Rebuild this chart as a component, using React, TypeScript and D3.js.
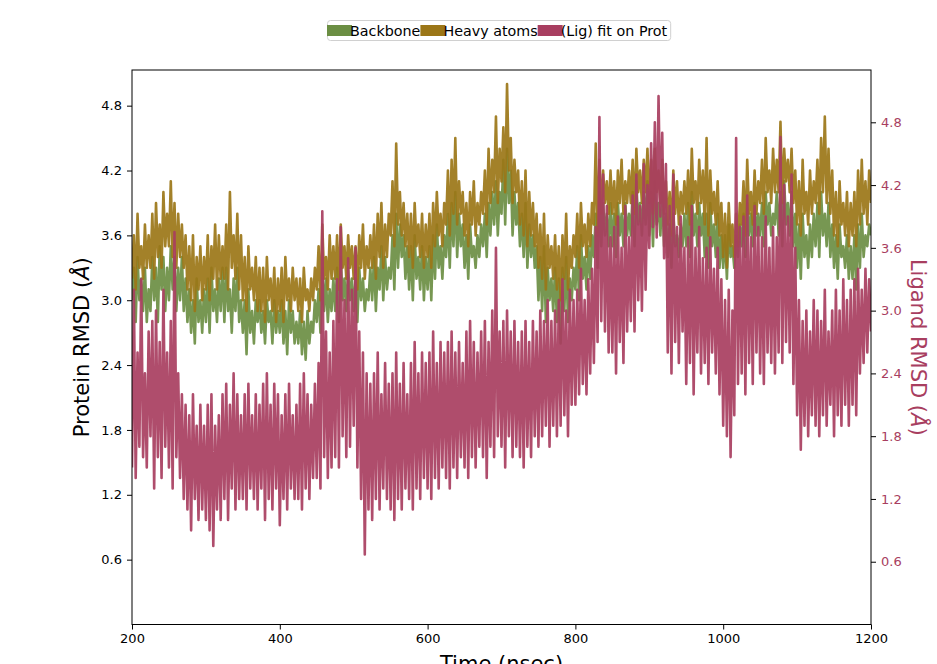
import React, { useEffect, useRef } from 'react';
import * as d3 from 'd3';

// sampled every 2.5 ns from 200 to 1200 ns (one row = 25 ns)
const startTime = 200;
const stepNs = 2.5;

// Protein backbone RMSD (left axis)
const backbone = [
  3.0, 3.3, 2.8, 3.4, 3.0, 3.2, 2.9, 3.3, 2.8, 3.1,
  2.9, 3.4, 3.0, 3.3, 2.8, 3.5, 3.1, 3.4, 2.9, 3.3,
  3.0, 3.5, 3.1, 3.4, 2.9, 3.3, 3.0, 3.4, 2.9, 3.2,
  2.8, 3.1, 2.7, 3.0, 2.6, 3.2, 2.8, 3.0, 2.7, 3.1,
  2.8, 3.2, 2.7, 3.3, 2.9, 3.1, 2.8, 3.2, 2.9, 3.3,
  2.8, 3.3, 2.9, 3.1, 2.7, 3.2, 2.9, 3.3, 2.8, 3.0,
  2.7, 3.0, 2.5, 3.1, 2.7, 2.9, 2.6, 3.0, 2.8, 3.0,
  2.7, 2.9, 2.6, 3.0, 2.8, 2.9, 2.6, 3.0, 2.7, 2.9,
  2.7, 3.0, 2.6, 2.9, 2.5, 3.0, 2.7, 2.9, 2.6, 2.8,
  2.6, 2.9, 2.5, 2.8, 2.45, 2.9, 2.6, 2.8, 2.7, 3.0,
  2.8, 3.1, 2.7, 3.3, 2.9, 3.2, 2.8, 3.1, 2.9, 3.2,
  2.9, 3.3, 2.8, 3.4, 3.0, 3.2, 2.9, 3.3, 3.0, 3.2,
  2.9, 3.2, 2.8, 3.3, 3.0, 3.2, 2.9, 3.1, 3.0, 3.3,
  3.0, 3.4, 2.9, 3.3, 3.1, 3.5, 3.0, 3.4, 3.1, 3.3,
  3.2, 3.6, 3.1, 3.8, 3.3, 3.7, 3.4, 3.6, 3.2, 3.5,
  3.1, 3.5, 3.0, 3.6, 3.2, 3.4, 3.1, 3.5, 3.0, 3.4,
  3.1, 3.5, 3.0, 3.6, 3.2, 3.7, 3.3, 3.5, 3.2, 3.6,
  3.4, 3.8, 3.3, 3.9, 3.5, 4.0, 3.4, 3.8, 3.5, 3.7,
  3.3, 3.6, 3.2, 3.7, 3.4, 3.5, 3.3, 3.6, 3.4, 3.7,
  3.5, 3.8, 3.4, 3.9, 3.6, 4.0, 3.7, 4.1, 3.6, 4.0,
  3.8, 4.3, 3.7, 4.4, 3.9, 4.2, 3.6, 4.0, 3.7, 3.9,
  3.5, 3.8, 3.4, 3.9, 3.3, 3.7, 3.4, 3.6, 3.3, 3.5,
  3.0, 3.4, 2.9, 3.5, 2.8, 3.3, 3.0, 3.2, 2.9, 3.3,
  2.8, 3.2, 2.6, 3.3, 2.9, 3.4, 2.8, 3.2, 3.0, 3.3,
  3.1, 3.5, 3.0, 3.6, 3.2, 3.4, 3.1, 3.5, 3.2, 3.6,
  3.4, 3.8, 3.3, 4.0, 3.5, 3.9, 3.6, 3.8, 3.5, 3.9,
  3.5, 3.8, 3.4, 3.9, 3.6, 3.8, 3.5, 3.9, 3.6, 3.8,
  3.6, 4.0, 3.5, 4.1, 3.7, 3.9, 3.6, 4.0, 3.7, 4.1,
  3.6, 4.0, 3.5, 4.1, 3.7, 3.9, 3.6, 4.0, 3.5, 3.8,
  3.4, 3.7, 3.3, 3.8, 3.5, 3.6, 3.4, 3.7, 3.5, 3.8,
  3.5, 3.9, 3.4, 4.0, 3.6, 3.8, 3.5, 3.9, 3.6, 3.8,
  3.4, 3.8, 3.3, 3.9, 3.5, 3.7, 3.4, 3.8, 3.3, 3.6,
  3.3, 3.6, 3.2, 3.7, 3.4, 3.5, 3.3, 3.6, 3.4, 3.7,
  3.5, 3.8, 3.4, 3.9, 3.6, 3.8, 3.5, 3.9, 3.6, 3.8,
  3.6, 3.9, 3.5, 4.0, 3.7, 3.9, 3.6, 3.8, 3.7, 4.0,
  3.6, 4.0, 3.5, 4.1, 3.7, 3.9, 3.6, 4.0, 3.5, 3.8,
  3.3, 3.7, 3.2, 3.8, 3.4, 3.6, 3.3, 3.7, 3.4, 3.8,
  3.5, 3.9, 3.4, 4.0, 3.6, 3.8, 3.5, 3.9, 3.4, 3.7,
  3.3, 3.6, 3.2, 3.7, 3.4, 3.5, 3.3, 3.6, 3.2, 3.5,
  3.2, 3.6, 3.1, 3.7, 3.3, 3.8, 3.4, 3.6, 3.5, 3.7,
  3.6,
];

// Protein heavy atoms RMSD (left axis)
const heavyAtoms = [
  3.2, 3.6, 3.1, 3.8, 3.3, 3.5, 3.2, 3.7, 3.3, 3.6,
  3.3, 3.8, 3.2, 3.9, 3.4, 3.7, 3.3, 4.0, 3.5, 3.8,
  3.5, 4.1, 3.4, 3.9, 3.3, 3.8, 3.4, 3.7, 3.3, 3.6,
  3.1, 3.5, 3.0, 3.6, 2.9, 3.4, 3.1, 3.5, 3.0, 3.4,
  3.1, 3.6, 3.0, 3.5, 3.2, 3.7, 3.1, 3.6, 3.2, 3.5,
  3.2, 3.7, 3.1, 4.0, 3.3, 3.6, 3.2, 3.8, 3.1, 3.6,
  3.0, 3.4, 2.9, 3.5, 3.1, 3.3, 3.0, 3.4, 2.9, 3.3,
  2.9, 3.3, 2.8, 3.4, 3.0, 3.2, 2.9, 3.3, 2.8, 3.2,
  2.9, 3.3, 2.8, 3.4, 3.0, 3.2, 2.9, 3.3, 3.0, 3.2,
  2.9, 3.2, 2.8, 3.3, 3.0, 3.1, 2.9, 3.2, 3.0, 3.3,
  3.1, 3.5, 3.0, 3.7, 3.2, 3.4, 3.1, 3.6, 3.2, 3.5,
  3.2, 3.6, 3.1, 3.7, 3.3, 3.5, 3.2, 3.6, 3.3, 3.5,
  3.2, 3.5, 3.1, 3.6, 3.3, 3.7, 3.2, 3.5, 3.3, 3.6,
  3.3, 3.7, 3.2, 3.8, 3.4, 3.9, 3.3, 3.7, 3.4, 3.8,
  3.6, 4.1, 3.5, 4.45, 3.7, 4.0, 3.6, 3.9, 3.5, 3.8,
  3.4, 3.8, 3.3, 3.9, 3.5, 3.7, 3.4, 3.8, 3.3, 3.7,
  3.4, 3.8, 3.3, 3.9, 3.5, 4.0, 3.6, 3.8, 3.5, 3.9,
  3.7, 4.2, 3.6, 4.3, 3.8, 4.5, 3.7, 4.1, 3.8, 4.0,
  3.6, 3.9, 3.5, 4.0, 3.7, 4.1, 3.6, 3.9, 3.7, 4.0,
  3.8, 4.2, 3.7, 4.4, 3.9, 4.3, 4.0, 4.7, 3.9, 4.4,
  4.1, 4.6, 4.0, 5.0, 4.2, 4.5, 3.9, 4.3, 4.0, 4.2,
  3.7, 4.1, 3.6, 4.2, 3.5, 4.0, 3.6, 3.9, 3.5, 3.8,
  3.3, 3.7, 3.2, 3.8, 3.1, 3.6, 3.3, 3.5, 3.2, 3.6,
  3.1, 3.5, 3.0, 3.6, 3.2, 3.8, 3.1, 3.5, 3.3, 3.6,
  3.4, 3.8, 3.3, 3.9, 3.5, 3.7, 3.4, 3.8, 3.5, 3.9,
  3.7, 4.45, 3.6, 4.3, 3.8, 4.2, 3.9, 4.1, 3.8, 4.2,
  3.8, 4.1, 3.7, 4.2, 3.9, 4.3, 3.8, 4.1, 3.9, 4.2,
  3.9, 4.3, 3.8, 4.4, 4.0, 4.2, 3.9, 4.3, 4.0, 4.4,
  3.9, 4.3, 3.8, 4.4, 4.0, 4.2, 3.9, 4.3, 3.8, 4.1,
  3.7, 4.0, 3.6, 4.2, 3.8, 4.1, 3.7, 4.0, 3.8, 4.1,
  3.8, 4.2, 3.7, 4.4, 3.9, 4.1, 3.8, 4.3, 3.9, 4.2,
  3.7, 4.5, 3.6, 4.2, 3.8, 4.0, 3.7, 4.1, 3.6, 3.9,
  3.4, 3.8, 3.3, 3.9, 3.5, 3.7, 3.4, 3.8, 3.5, 3.9,
  3.7, 4.1, 3.6, 4.3, 3.8, 4.0, 3.7, 4.2, 3.8, 4.1,
  3.9, 4.3, 3.8, 4.5, 4.0, 4.2, 3.9, 4.4, 4.0, 4.3,
  4.0, 4.65, 3.9, 4.4, 4.1, 4.3, 4.0, 4.4, 3.9, 4.2,
  3.7, 4.1, 3.6, 4.3, 3.8, 4.0, 3.7, 4.2, 3.8, 4.1,
  3.9, 4.3, 3.8, 4.5, 4.0, 4.7, 3.9, 4.4, 3.8, 4.2,
  3.6, 4.0, 3.5, 4.1, 3.7, 3.9, 3.6, 4.0, 3.5, 3.9,
  3.6, 4.0, 3.5, 4.2, 3.7, 4.3, 3.8, 4.1, 3.7, 4.2,
  3.9,
];

// Ligand RMSD fit on protein (right axis)
const ligand = [
  1.5, 3.2, 1.4, 2.6, 1.7, 3.3, 1.6, 2.4, 1.5, 2.8,
  1.8, 2.9, 1.3, 3.0, 1.6, 2.7, 1.4, 3.2, 1.7, 2.6,
  1.5, 2.9, 1.3, 3.75, 1.6, 2.4, 1.4, 2.2, 1.2, 2.1,
  1.1, 2.0, 0.9, 2.2, 1.2, 1.9, 1.0, 2.1, 1.1, 1.9,
  1.0, 2.1, 0.9, 2.2, 0.75, 1.9, 1.1, 2.0, 1.0, 2.2,
  1.2, 2.3, 1.0, 2.1, 1.3, 2.4, 1.1, 2.2, 1.2, 2.0,
  1.2, 2.2, 1.1, 2.3, 1.3, 2.0, 1.2, 2.2, 1.1, 2.1,
  1.3, 2.3, 1.0, 2.4, 1.2, 2.1, 1.1, 2.3, 1.3, 2.2,
  0.95, 2.0, 1.2, 2.2, 1.1, 2.3, 1.3, 2.0, 1.2, 2.1,
  1.2, 2.3, 1.1, 2.4, 1.3, 2.2, 1.2, 2.1, 1.4, 2.3,
  1.4, 2.5, 1.3, 3.95, 1.6, 2.8, 1.4, 2.6, 1.5, 2.9,
  1.6, 3.3, 1.5, 3.8, 1.8, 3.1, 1.6, 3.5, 1.7, 3.2,
  1.9, 3.6, 1.5, 2.8, 1.2, 2.6, 0.67, 2.4, 1.1, 2.3,
  1.0, 2.4, 1.2, 2.6, 1.1, 2.2, 1.3, 2.5, 1.2, 2.3,
  1.1, 2.4, 1.0, 2.6, 1.2, 2.3, 1.1, 2.5, 1.3, 2.2,
  1.2, 2.5, 1.1, 2.7, 1.3, 2.4, 1.2, 2.6, 1.4, 2.5,
  1.3, 2.6, 1.2, 2.8, 1.4, 2.5, 1.3, 2.7, 1.5, 2.6,
  1.4, 2.7, 1.3, 2.8, 1.5, 2.6, 1.4, 2.7, 1.6, 2.5,
  1.5, 2.8, 1.4, 2.9, 1.6, 2.7, 1.5, 2.6, 1.7, 2.8,
  1.6, 2.9, 1.4, 2.7, 1.7, 3.0, 1.6, 3.6, 1.8, 2.8,
  1.7, 2.9, 1.5, 3.0, 1.8, 2.8, 1.6, 2.9, 1.7, 2.7,
  1.6, 2.8, 1.5, 2.9, 1.7, 2.7, 1.6, 2.9, 1.8, 2.8,
  1.7, 3.0, 1.8, 2.9, 1.9, 3.1, 1.7, 2.9, 1.9, 3.0,
  1.8, 3.1, 1.9, 3.3, 2.0, 3.0, 1.8, 3.2, 2.1, 3.1,
  2.1, 3.2, 2.2, 3.4, 2.3, 3.1, 2.2, 3.3, 2.4, 3.4,
  2.5, 3.8, 2.7, 4.85, 2.9, 4.3, 2.8, 4.0, 2.6, 3.7,
  2.6, 3.8, 2.4, 3.9, 2.7, 3.6, 2.5, 4.0, 2.8, 3.7,
  2.9, 4.1, 2.8, 4.3, 3.1, 4.0, 3.0, 4.4, 3.2, 4.2,
  3.6, 4.6, 3.8, 4.8, 3.7, 5.05, 3.9, 4.7, 3.5, 4.4,
  2.6, 4.0, 2.4, 4.3, 2.7, 3.8, 2.5, 3.9, 2.8, 3.6,
  2.3, 3.7, 2.5, 4.0, 2.2, 3.6, 2.6, 3.8, 2.4, 3.5,
  2.5, 3.6, 2.3, 3.7, 2.6, 3.4, 2.4, 3.6, 2.2, 3.3,
  1.9, 3.1, 1.8, 3.2, 1.6, 3.0, 2.0, 4.65, 2.3, 3.8,
  2.4, 3.9, 2.2, 4.1, 2.5, 3.7, 2.3, 4.0, 2.6, 3.8,
  2.4, 3.7, 2.3, 3.9, 2.6, 3.6, 2.5, 3.8, 2.4, 3.7,
  2.6, 4.66, 2.5, 4.2, 2.7, 3.9, 2.6, 4.3, 2.3, 3.6,
  2.0, 3.1, 1.67, 2.9, 1.9, 3.0, 1.8, 2.8, 2.0, 3.1,
  1.9, 3.0, 1.8, 2.9, 2.0, 3.2, 1.9, 2.8, 2.1, 3.0,
  1.8, 3.2, 2.0, 3.0, 1.9, 3.3, 2.1, 3.1, 1.9, 3.2,
  2.1, 3.3, 2.0, 3.4, 2.4, 3.2, 2.5, 3.4, 2.6, 3.3,
  2.8,
];

const xTicks = [200, 400, 600, 800, 1000, 1200];
const yTicks = [0.6, 1.2, 1.8, 2.4, 3.0, 3.6, 4.2, 4.8];
const seriesNames = ['Backbone', 'Heavy atoms', '(Lig) fit on Prot'];
const seriesColors = ['#6b8e43', '#9b7617', '#a83e60'];

export default function App() {
  const ref = useRef<SVGSVGElement>(null);

  useEffect(() => {
    const svg = d3.select(ref.current);
    svg.selectAll('*').remove();
    const font = '"DejaVu Sans", sans-serif';
    const left = 132, right = 871, top = 70, bottom = 624.5;

    const x = d3.scaleLinear().domain([200, 1200]).range([left, right]);
    const yL = d3.scaleLinear().domain([0, 5.13]).range([bottom, top]);
    const yR = d3.scaleLinear().domain([0, 5.3]).range([bottom, top]);

    svg.append('rect').attr('width', 937).attr('height', 664).attr('fill', '#fff');

    svg.append('defs').append('clipPath').attr('id', 'plot-clip')
      .append('rect').attr('x', left).attr('y', top).attr('width', right - left).attr('height', bottom - top);

    const plot = svg.append('g').attr('clip-path', 'url(#plot-clip)');
    const toPoints = (vals: number[]) => vals.map((v, i) => [startTime + i * stepNs, v] as [number, number]);

    const lineL = d3.line<[number, number]>().x(d => x(d[0])).y(d => yL(d[1]));
    const lineR = d3.line<[number, number]>().x(d => x(d[0])).y(d => yR(d[1]));

    [backbone, heavyAtoms].forEach((vals, i) => {
      plot.append('path').attr('d', lineL(toPoints(vals)))
        .attr('fill', 'none').attr('stroke', seriesColors[i]).attr('stroke-width', 2.6)
        .attr('stroke-opacity', 0.92).attr('stroke-linejoin', 'round');
    });
    plot.append('path').attr('d', lineR(toPoints(ligand)))
      .attr('fill', 'none').attr('stroke', seriesColors[2]).attr('stroke-width', 2.6)
      .attr('stroke-opacity', 0.92).attr('stroke-linejoin', 'round');

    // frame
    svg.append('rect').attr('x', left).attr('y', top).attr('width', right - left).attr('height', bottom - top)
      .attr('fill', 'none').attr('stroke', '#000').attr('stroke-width', 1);

    const styleAxis = (g: any, color: string) => {
      g.select('.domain').remove();
      g.selectAll('line').attr('stroke', '#000');
      g.selectAll('text').attr('fill', color).style('font-family', font).style('font-size', '13px');
    };

    svg.append('g').attr('transform', `translate(0,${bottom})`)
      .call(d3.axisBottom(x).tickValues(xTicks).tickSize(5).tickPadding(4).tickFormat(d3.format('d')))
      .call(g => styleAxis(g, '#000'));

    svg.append('g').attr('transform', `translate(${left},0)`)
      .call(d3.axisLeft(yL).tickValues(yTicks).tickSize(5).tickPadding(5).tickFormat(d3.format('.1f')))
      .call(g => styleAxis(g, '#000'));

    svg.append('g').attr('transform', `translate(${right},0)`)
      .call(d3.axisRight(yR).tickValues(yTicks).tickSize(5).tickPadding(5).tickFormat(d3.format('.1f')))
      .call(g => styleAxis(g, seriesColors[2]));

    // axis titles
    const leftTitle = svg.append('text')
      .attr('transform', `translate(89,${(top + bottom) / 2}) rotate(-90)`)
      .attr('text-anchor', 'middle').style('font-family', font).style('font-size', '21px').attr('fill', '#000');
    leftTitle.append('tspan').text('Protein RMSD (');
    leftTitle.append('tspan').style('font-style', 'italic').text('Å');
    leftTitle.append('tspan').text(')');

    const rightTitle = svg.append('text')
      .attr('transform', `translate(911,${(top + bottom) / 2}) rotate(90)`)
      .attr('text-anchor', 'middle').style('font-family', font).style('font-size', '21px').attr('fill', seriesColors[2]);
    rightTitle.append('tspan').text('Ligand RMSD (');
    rightTitle.append('tspan').style('font-style', 'italic').text('Å');
    rightTitle.append('tspan').text(')');

    svg.append('text').attr('x', (left + right) / 2).attr('y', 671)
      .attr('text-anchor', 'middle').style('font-family', font).style('font-size', '21px')
      .text('Time (nsec)');

    // legend
    const legend = svg.append('g');
    const box = legend.append('rect').attr('x', 327.5).attr('y', 20.5).attr('height', 20).attr('rx', 3)
      .attr('fill', '#fff').attr('stroke', '#d0d0d0');
    let cx = 327;
    seriesNames.forEach((name, i) => {
      legend.append('rect').attr('x', cx).attr('y', 25).attr('width', 25).attr('height', 11)
        .attr('fill', seriesColors[i]);
      const t = legend.append('text').attr('x', cx + 23).attr('y', 35.5)
        .style('font-family', font).style('font-size', '14.3px').attr('fill', '#000').text(name);
      const w = (t.node() as SVGTextElement).getComputedTextLength();
      cx = cx + 23 + w;
    });
    box.attr('width', cx - 327 + 3);
  }, []);

  return (
    <svg ref={ref} width={937} height={664} style={{ position: 'absolute', left: 0, top: 0 }} />
  );
}
